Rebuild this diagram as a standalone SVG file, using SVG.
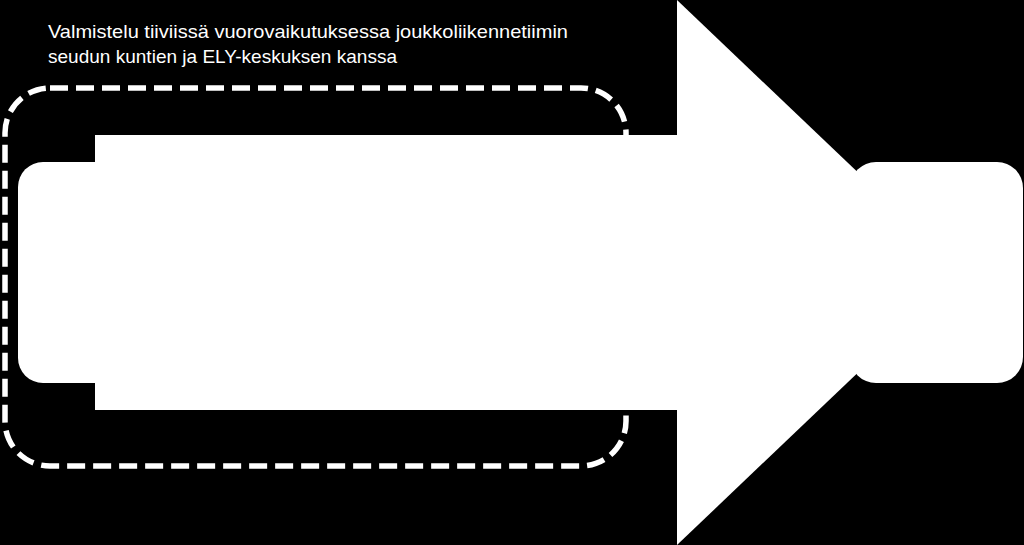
<svg xmlns="http://www.w3.org/2000/svg" width="1024" height="545" viewBox="0 0 1024 545">
  <style>
    .shape { fill: #ffffff; stroke: none; }
    .dash { fill: none; stroke: #ffffff; stroke-width: 5.5; stroke-dasharray: 18 8; }
    .label { fill: #ffffff; font-family: "Liberation Sans", Arial, sans-serif; font-size: 19px; }
  </style>
  <rect x="0" y="0" width="1024" height="545" fill="#000000"/>
  <g id="label">
    <text class="label" x="48" y="38" textLength="520" lengthAdjust="spacingAndGlyphs">Valmistelu tiiviissä vuorovaikutuksessa joukkoliikennetiimin</text>
    <text class="label" x="48" y="63" textLength="349" lengthAdjust="spacingAndGlyphs">seudun kuntien ja ELY-keskuksen kanssa</text>
  </g>
  <g id="dashed-frame">
    <rect class="dash" x="5" y="88" width="621" height="378" rx="45" ry="45"/>
  </g>
  <g id="left-box">
    <rect class="shape" x="18" y="162" width="200" height="221" rx="25" ry="25"/>
  </g>
  <g id="arrow">
    <rect class="shape" x="95" y="135" width="583" height="275"/>
    <polygon class="shape" points="677,0 963,272.5 677,545"/>
  </g>
  <g id="right-box">
    <rect class="shape" x="850" y="162" width="173" height="221" rx="26" ry="26"/>
  </g>
</svg>
